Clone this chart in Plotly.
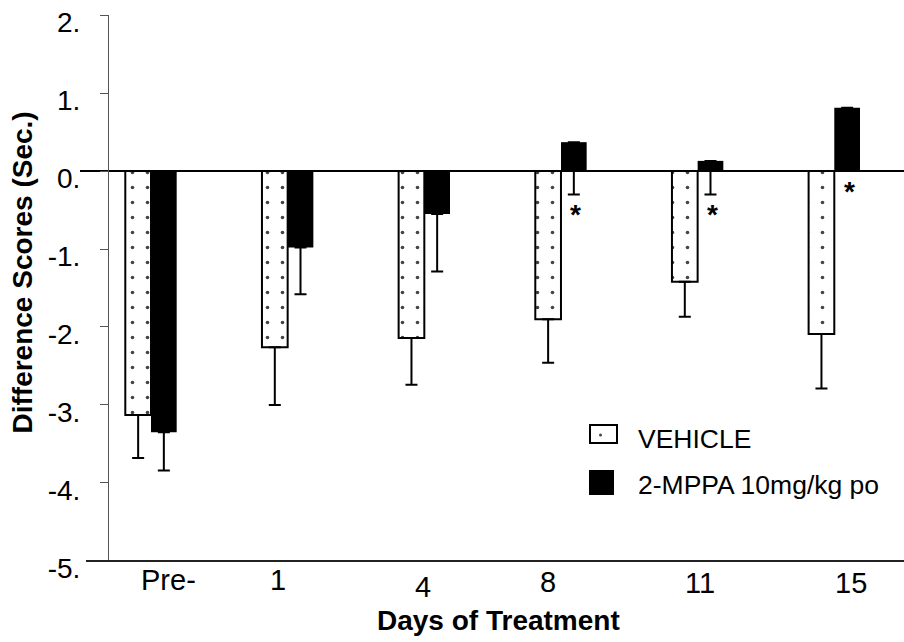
import plotly.graph_objects as go

# Mean difference scores (sec.) and one-sided SEM per treatment day
days = ["Pre-", "1", "4", "8", "11", "15"]
vehicle = [-3.13, -2.26, -2.14, -1.90, -1.42, -2.09]
vehicle_sem = [0.55, 0.74, 0.60, 0.56, 0.45, 0.70]
mppa = [-3.35, -0.98, -0.55, 0.37, 0.13, 0.81]
mppa_sem = [0.49, 0.60, 0.74, 0.67, 0.43, 0.50]
series_names = ["VEHICLE", "2-MPPA 10mg/kg po"]
significant_days = ["8", "11", "15"]

y_tick_vals = [-5, -4, -3, -2, -1, 0, 1, 2]
y_tick_text = ["-5.", "-4.", "-3.", "-2.", "-1.", "0.", "1.", "2."]

FONT = "Liberation Sans, Arial, sans-serif"

# hand-set nudges of the day labels (category units, pixels below axis)
label_dx = [0.13, -0.071, -0.008, -0.097, 0.019, 0.121]
label_dy = [19, 19, 26, 21, 22, 22]

fig = go.Figure()

fig.add_trace(go.Bar(
    name=series_names[0], x=days, y=vehicle,
    marker=dict(
        color="white",
        line=dict(color="black", width=2),
        pattern=dict(shape=".", size=15, solidity=0.045,
                     fgcolor="#444", fgopacity=1, bgcolor="white"),
    ),
    error_y=dict(type="data", symmetric=False,
                 array=[0] * len(vehicle_sem), arrayminus=vehicle_sem,
                 color="black", thickness=2, width=6),
    showlegend=False,
))
fig.add_trace(go.Bar(
    name=series_names[1], x=days, y=mppa,
    marker=dict(color="black", line=dict(color="black", width=0)),
    error_y=dict(type="data", symmetric=False,
                 array=[0] * len(mppa_sem), arrayminus=mppa_sem,
                 color="black", thickness=2, width=6),
    showlegend=False,
))

annotations = []

# day labels under the axis
for i, d in enumerate(days):
    annotations.append(dict(
        x=i + label_dx[i], y=0, xref="x", yref="paper",
        text=d, showarrow=False, xanchor="center", yanchor="middle",
        yshift=-label_dy[i], font=dict(family=FONT, size=29, color="black"),
    ))

# significance asterisks below the 2-MPPA bars
for d in significant_days:
    i = days.index(d)
    low = min(0, mppa[i] - mppa_sem[i])
    annotations.append(dict(
        x=i, y=low, xref="x", yref="y", text="<b>*</b>", showarrow=False,
        xanchor="center", yanchor="top", xshift=15, yshift=-3,
        font=dict(family=FONT, size=28, color="black"),
    ))

# axis titles
annotations.append(dict(
    x=0.5, y=0, xref="paper", yref="paper", text="<b>Days of Treatment</b>",
    showarrow=False, xanchor="center", yanchor="middle",
    xshift=(498 - 492), yshift=-59,
    font=dict(family=FONT, size=28, color="black"),
))
annotations.append(dict(
    x=0, y=0.5, xref="paper", yref="paper", text="<b>Difference Scores (Sec.)</b>",
    showarrow=False, xanchor="center", yanchor="middle", textangle=-90,
    xshift=-58, yshift=(288 - 272.5),
    font=dict(family=FONT, size=28, color="black"),
))

# legend
shapes = [
    dict(type="line", xref="paper", yref="paper", x0=6 / 824, x1=1, y0=0, y1=0,
         line=dict(color="#222", width=2)),
    dict(type="rect", xref="paper", yref="paper",
         x0=(590 - 80) / 824, x1=(617 - 80) / 824,
         y0=(561 - 443) / 546, y1=(561 - 425) / 546,
         line=dict(color="black", width=2), fillcolor="white"),
    dict(type="circle", xref="paper", yref="paper",
         x0=(599 - 80) / 824, x1=(602 - 80) / 824,
         y0=(561 - 436.5) / 546, y1=(561 - 433.5) / 546,
         line=dict(width=0), fillcolor="#444"),
    dict(type="rect", xref="paper", yref="paper",
         x0=(589 - 80) / 824, x1=(614 - 80) / 824,
         y0=(561 - 495) / 546, y1=(561 - 470) / 546,
         line=dict(width=0), fillcolor="black"),
]
for name, yc in zip(series_names, [438.5, 484.5]):
    annotations.append(dict(
        x=(636 - 80) / 824, y=(561 - yc) / 546, xref="paper", yref="paper",
        text=name, showarrow=False, xanchor="left", yanchor="middle",
        font=dict(family=FONT, size=26.5, color="black"),
    ))

fig.update_layout(
    width=904, height=642,
    margin=dict(l=80, r=0, t=15, b=81, pad=0),
    paper_bgcolor="white", plot_bgcolor="white",
    barmode="group", bargap=0.624, bargroupgap=0,
    showlegend=False,
    annotations=annotations, shapes=shapes,
    xaxis=dict(type="category", range=[-0.5195, 5.51],
               showline=False, showgrid=False, zeroline=False,
               showticklabels=False, ticks=""),
    yaxis=dict(range=[-5.0005, 2.0005], anchor="free", position=28 / 824,
               tickvals=y_tick_vals, ticktext=y_tick_text,
               ticks="outside", ticklen=8, tickwidth=1, tickcolor="#555",
               showline=True, linecolor="#555", linewidth=1,
               showgrid=False, zeroline=True, zerolinecolor="black",
               zerolinewidth=2, ticklabelstandoff=14, ticklabelshift=7,
               tickfont=dict(family=FONT, size=28, color="black")),
)

fig.write_html("out.html")
